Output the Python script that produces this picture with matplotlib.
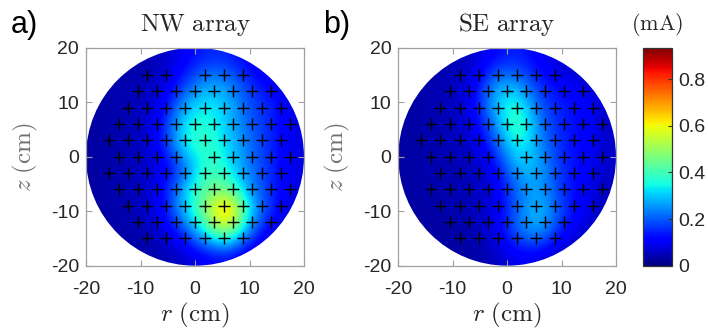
import numpy as np
import matplotlib
matplotlib.use("Agg")
import matplotlib.pyplot as plt
from matplotlib.patches import Circle

plt.rcParams['font.family'] = ['Liberation Sans', 'DejaVu Sans']
plt.rcParams['mathtext.fontset'] = 'cm'

# ---------------- data ----------------
grid_r = [-18, -14, -10, -6, -2, 2, 6, 10, 14, 18]     # cell centres (cm)
grid_z = [18, 14, 10, 6, 2, -2, -6, -10, -14, -18]

nw_current = [
    [0.03, 0.03, 0.04, 0.05, 0.10, 0.15, 0.15, 0.10, 0.05, 0.03],
    [0.03, 0.04, 0.04, 0.06, 0.15, 0.26, 0.24, 0.15, 0.10, 0.05],
    [0.03, 0.04, 0.05, 0.08, 0.26, 0.34, 0.30, 0.18, 0.15, 0.08],
    [0.03, 0.04, 0.05, 0.12, 0.35, 0.38, 0.30, 0.20, 0.15, 0.08],
    [0.03, 0.04, 0.05, 0.12, 0.35, 0.40, 0.32, 0.22, 0.15, 0.08],
    [0.03, 0.04, 0.05, 0.08, 0.18, 0.40, 0.35, 0.22, 0.15, 0.08],
    [0.03, 0.04, 0.05, 0.10, 0.30, 0.45, 0.45, 0.25, 0.15, 0.08],
    [0.03, 0.04, 0.05, 0.10, 0.30, 0.48, 0.80, 0.32, 0.15, 0.06],
    [0.03, 0.03, 0.04, 0.06, 0.15, 0.35, 0.50, 0.20, 0.08, 0.04],
    [0.03, 0.03, 0.03, 0.04, 0.06, 0.10, 0.12, 0.06, 0.04, 0.03],
]

se_current = [
    [0.03, 0.03, 0.04, 0.06, 0.12, 0.15, 0.10, 0.06, 0.04, 0.03],
    [0.03, 0.04, 0.05, 0.08, 0.26, 0.24, 0.14, 0.10, 0.08, 0.05],
    [0.03, 0.04, 0.05, 0.10, 0.32, 0.38, 0.18, 0.14, 0.12, 0.06],
    [0.03, 0.04, 0.05, 0.08, 0.25, 0.45, 0.22, 0.14, 0.12, 0.06],
    [0.03, 0.04, 0.05, 0.06, 0.18, 0.38, 0.25, 0.14, 0.12, 0.06],
    [0.03, 0.04, 0.04, 0.05, 0.10, 0.30, 0.28, 0.15, 0.12, 0.06],
    [0.03, 0.04, 0.04, 0.05, 0.08, 0.22, 0.28, 0.15, 0.10, 0.05],
    [0.03, 0.03, 0.04, 0.05, 0.08, 0.22, 0.32, 0.18, 0.10, 0.05],
    [0.03, 0.03, 0.03, 0.04, 0.08, 0.22, 0.28, 0.12, 0.06, 0.04],
    [0.03, 0.03, 0.03, 0.03, 0.05, 0.10, 0.08, 0.05, 0.04, 0.03],
]

nw_probes = {
    15: [-8.75, -5.25, 1.75, 5.25, 8.75],
    12: [-10.5, -7, -3.5, 0, 3.5, 7, 10.5, 14],
    9: [-12.25, -8.75, -5.25, -1.75, 1.75, 5.25, 8.75, 12.25, 15.75],
    6: [-14, -10.5, -7, -3.5, 0, 3.5, 7, 10.5, 14, 17.5],
    3: [-15.75, -12.25, -8.75, -5.25, -1.75, 1.75, 5.25, 8.75, 12.25, 15.75],
    0: [-14, -10.5, -7, -3.5, 3.5, 7, 10.5, 14, 17.5],
    -3: [-15.75, -12.25, -8.75, -5.25, -1.75, 1.75, 5.25, 8.75, 12.25, 15.75],
    -6: [-14, -10.5, -7, -3.5, 0, 3.5, 7, 10.5, 14, 17.5],
    -9: [-12.25, -8.75, -5.25, -1.75, 1.75, 5.25, 8.75, 12.25, 15.75],
    -12: [-10.5, -7, -3.5, 0, 3.5, 7, 10.5, 14],
    -15: [-8.75, -5.25, -1.75, 1.75, 5.25, 8.75],
}

se_probes = {
    15: [-8.75, -5.25, -1.75, 1.75, 5.25, 8.75],
    12: [-10.5, -7, -3.5, 0, 3.5, 7, 10.5, 14],
    9: [-12.25, -8.75, -5.25, -1.75, 1.75, 5.25, 8.75, 12.25, 15.75],
    6: [-14, -10.5, -7, -3.5, 0, 3.5, 7, 10.5, 14, 17.5],
    3: [-15.75, -12.25, -8.75, -5.25, -1.75, 1.75, 5.25, 8.75, 12.25, 15.75],
    0: [-14, -10.5, -7, -3.5, 3.5, 7, 10.5, 14, 17.5],
    -3: [-12.25, -8.75, -5.25, -1.75, 1.75, 5.25, 8.75, 12.25, 15.75],
    -6: [-14, -10.5, -7, -3.5, 0, 3.5, 7, 10.5, 14, 17.5],
    -9: [-12.25, -8.75, -5.25, -1.75, 1.75, 5.25, 8.75, 12.25, 15.75],
    -12: [-10.5, -7, -3.5, 0, 3.5, 7, 10.5],
    -15: [-8.75, -5.25, -1.75, 1.75, 5.25, 8.75],
}

ticks = [-20, -10, 0, 10, 20]
cbar_ticks = [0, 0.2, 0.4, 0.6, 0.8]
vmin, vmax = 0.0, 0.935
radius = 20
titles = ["NW array", "SE array"]
panel_labels = ["a)", "b)"]

# ---------------- figure ----------------
W, H = 708, 329
fig = plt.figure(figsize=(W / 100, H / 100), dpi=100)

def ax_rect(l, r, t, b):
    return [l / W, (H - b) / H, (r - l) / W, (b - t) / H]

axes_px = [(86, 304, 47.7, 265.7), (398.3, 616, 47.7, 265.7)]
frame_col = '#a0a0a0'
text_col = '#262626'

for i, (vals, probes) in enumerate([(nw_current, nw_probes), (se_current, se_probes)]):
    ax = fig.add_axes(ax_rect(*axes_px[i]))
    im = ax.imshow(np.array(vals), cmap='jet', vmin=vmin, vmax=vmax,
                   extent=[-20, 20, -20, 20], origin='upper',
                   interpolation='bicubic', aspect='auto', zorder=1)
    clip = Circle((0, 0), radius, transform=ax.transData)
    im.set_clip_path(clip)
    for z, rs in probes.items():
        ax.plot(rs, [z] * len(rs), '+', color='black', ms=8, mew=1.0,
                linestyle='none', zorder=3)
    ax.set_xlim(-20, 20)
    ax.set_ylim(-20, 20)
    ax.set_xticks(ticks)
    ax.set_yticks(ticks)
    ax.set_xticklabels([str(t) for t in ticks])
    ax.set_yticklabels([str(t) for t in ticks])
    ax.tick_params(direction='in', length=4, width=0.8, color=frame_col,
                   top=True, right=True, labelsize=14, labelcolor=text_col)
    ax.tick_params(axis='x', pad=11)
    ax.tick_params(axis='y', pad=5)
    for sp in ax.spines.values():
        sp.set_color(frame_col)
        sp.set_linewidth(0.9)
    ax.set_title(r'$\mathrm{' + titles[i].replace(' ', r'\ ') + '}$',
                 fontsize=18, color=text_col, pad=12)
    ax.set_xlabel(r'$r\ \mathrm{(cm)}$', fontsize=18, color=text_col, labelpad=2)
    ax.set_ylabel(r'$z\ \mathrm{(cm)}$', fontsize=18, color='#707070', labelpad=8)
    fig.text((axes_px[i][0] - 75) / W, 1 - 25 / H, panel_labels[i],
             fontsize=22, color='black', ha='left', va='center')

cax = fig.add_axes(ax_rect(643.3, 671.7, 47.7, 265.7))
cb = fig.colorbar(im, cax=cax, ticks=cbar_ticks)
cb.ax.set_yticklabels([f"{t:g}" for t in cbar_ticks])
cb.ax.tick_params(direction='in', length=3, width=0.8, labelsize=14,
                  labelcolor=text_col, color='#333333', pad=5)
cb.outline.set_color('#333333')
cb.outline.set_linewidth(0.9)
cax.set_title(r'$\mathrm{(mA)}$', fontsize=16, color=text_col, pad=13)

fig.savefig('out.png', dpi=100)
